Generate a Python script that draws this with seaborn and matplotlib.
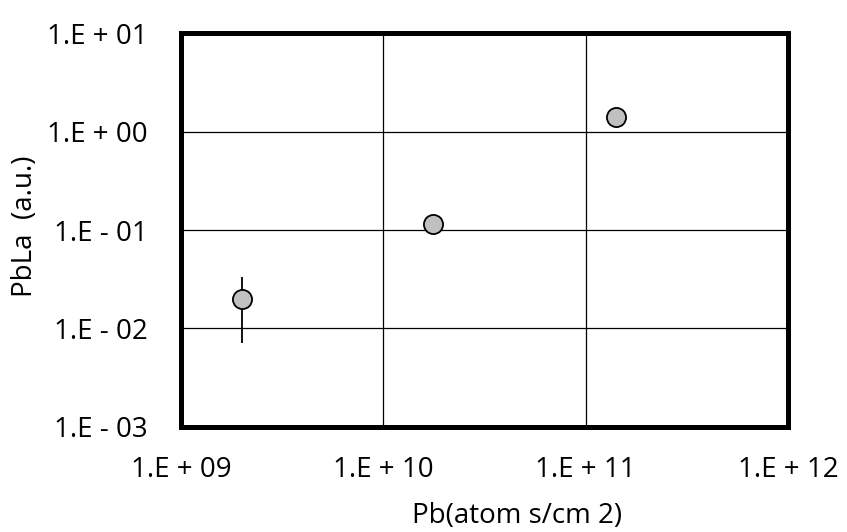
import numpy as np
import pandas as pd
import matplotlib
matplotlib.use("Agg")
import matplotlib.pyplot as plt
import seaborn as sns
from matplotlib.ticker import FixedLocator, FixedFormatter, NullLocator

# data
pb_atoms = [2.0e9, 1.77e10, 1.41e11]
pbla = [0.0199, 0.115, 1.42]
err_lower = [0.0071, np.nan, np.nan]
err_upper = [0.0333, np.nan, np.nan]
x_ticks = [1e9, 1e10, 1e11, 1e12]
x_tick_labels = ["1.E + 09", "1.E + 10", "1.E + 11", "1.E + 12"]
y_ticks = [1e-3, 1e-2, 1e-1, 1e0, 1e1]
y_tick_labels = ["1.E - 03", "1.E - 02", "1.E - 01", "1.E + 00", "1.E + 01"]

df = pd.DataFrame({"x": pb_atoms, "y": pbla, "lo": err_lower, "hi": err_upper})

sns.set_style("white")
plt.rcParams["font.family"] = ["Open Sans", "DejaVu Sans"]

W, H = 847, 532
fig = plt.figure(figsize=(W / 100, H / 100), dpi=100)
ax = fig.add_axes([0.2137, 0.1981, 0.9303 - 0.2137, 0.9372 - 0.1981])
ax.set_xscale("log")
ax.set_yscale("log")
ax.set_xlim(1e9, 1e12)
ax.set_ylim(1e-3, 1e1)

# error bars
eb = df.dropna()
ax.vlines(eb["x"], eb["lo"], eb["hi"], color="black", lw=1.3, zorder=3)

sns.scatterplot(data=df, x="x", y="y", ax=ax, s=190, color="#c0c0c0",
                edgecolor="black", linewidth=1.3, zorder=4, legend=False)

ax.xaxis.set_major_locator(FixedLocator(x_ticks))
ax.xaxis.set_major_formatter(FixedFormatter(x_tick_labels))
ax.yaxis.set_major_locator(FixedLocator(y_ticks))
ax.yaxis.set_major_formatter(FixedFormatter(y_tick_labels))
ax.xaxis.set_minor_locator(NullLocator())
ax.yaxis.set_minor_locator(NullLocator())
ax.grid(True, which="major", color="black", lw=0.9)
ax.tick_params(axis="both", length=0, labelsize=20, colors="black")
ax.tick_params(axis="y", pad=24)
ax.tick_params(axis="x", pad=21)

for s in ax.spines.values():
    s.set_color("black")
    s.set_linewidth(3.6)

ax.set_xlabel("Pb(atom s/cm 2)", fontsize=20, color="black")
ax.set_ylabel("PbLa  (a.u.)", fontsize=20, color="black")
xl = ax.xaxis.label
xl.set_va("center"); xl.set_ha("center")
yl = ax.yaxis.label
yl.set_va("center"); yl.set_ha("center"); yl.set_rotation_mode("default")

# label centres in pixels converted to axes fractions
ax_x0, ax_x1 = 0.2137 * W, 0.9303 * W
ax_y0, ax_y1 = (1 - 0.1981) * H, (1 - 0.9372) * H
ax.xaxis.set_label_coords((517 - ax_x0) / (ax_x1 - ax_x0), (ax_y0 - 516) / (ax_y0 - ax_y1))
ax.yaxis.set_label_coords((25 - ax_x0) / (ax_x1 - ax_x0), (ax_y0 - 226) / (ax_y0 - ax_y1))

fig.savefig("out.png", dpi=100)
